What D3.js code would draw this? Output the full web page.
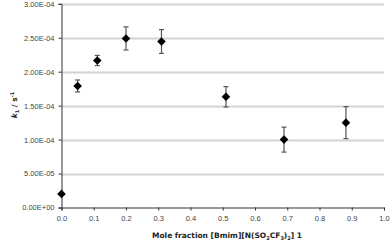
<!DOCTYPE html>
<html>
<head>
<meta charset="utf-8">
<script src="https://cdn.jsdelivr.net/npm/d3@7"></script>
<style>
  body { margin: 0; background: #fff; }
  svg { display: block; font-family: Verdana, "DejaVu Sans", sans-serif; }
</style>
</head>
<body>
<svg id="chart"></svg>
<script>
// data
var moleFraction = [0.0, 0.05, 0.111, 0.2, 0.31, 0.51, 0.69, 0.882];
var rateK1 = [2.0e-5, 1.79e-4, 2.165e-4, 2.49e-4, 2.445e-4, 1.63e-4, 1.0e-4, 1.25e-4];
var rateErr = [0, 0.88e-5, 0.75e-5, 1.7e-5, 1.75e-5, 1.5e-5, 1.84e-5, 2.35e-5];
var yTicks = [0, 5e-5, 1e-4, 1.5e-4, 2e-4, 2.5e-4, 3e-4];
var xTicks = [0, 0.1, 0.2, 0.3, 0.4, 0.5, 0.6, 0.7, 0.8, 0.9, 1.0];

var width = 392, height = 242;
var svg = d3.select("#chart").attr("width", width).attr("height", height);

var x = d3.scaleLinear().domain([0, 1]).range([61.5, 384]);
var y = d3.scaleLinear().domain([0, 3e-4]).range([207.5, 3.8]);

function sci(v) {
    if (v === 0) return "0.00E+00";
    var e = Math.floor(Math.log10(v) + 1e-9);
    var m = v / Math.pow(10, e);
    var es = (e < 0 ? "-" : "+") + (Math.abs(e) < 10 ? "0" : "") + Math.abs(e);
    return m.toFixed(2) + "E" + es;
}

// gridlines
svg.append("g")
    .selectAll("line")
    .data(yTicks.slice(1))
    .enter()
    .append("line")
    .attr("x1", x(0))
    .attr("x2", x(1))
    .attr("y1", function (d) { return Math.round(y(d)) + 0.5; })
    .attr("y2", function (d) { return Math.round(y(d)) + 0.5; })
    .style("stroke", "#d4d4d4")
    .style("stroke-width", 2);

// y axis
var yAxis = d3.axisLeft(y).tickValues(yTicks).tickFormat(sci).tickSize(3).tickPadding(4);
var gy = svg.append("g")
    .attr("transform", "translate(" + x(0) + ",0)")
    .call(yAxis);
gy.select(".domain").style("stroke", "#333");
gy.selectAll(".tick line").style("stroke", "#333");
gy.selectAll("text").style("font-size", "7.5px").style("fill", "#444");

// x axis
var xAxis = d3.axisBottom(x).tickValues(xTicks).tickFormat(d3.format(".1f")).tickSize(3).tickPadding(5);
var gx = svg.append("g")
    .attr("transform", "translate(0," + y(0) + ")")
    .call(xAxis);
gx.select(".domain").style("stroke", "#333");
gx.selectAll(".tick line").style("stroke", "#333");
gx.selectAll("text").style("font-size", "7.5px").style("fill", "#444");

// axis titles
var xt = svg.append("text")
    .attr("x", 227)
    .attr("y", 238)
    .attr("text-anchor", "middle")
    .style("font-size", "7.5px")
    .style("font-weight", "bold")
    .style("fill", "#222");
xt.append("tspan").text("Mole fraction [Bmim][N(SO");
xt.append("tspan").attr("dy", 2).style("font-size", "5px").text("2");
xt.append("tspan").attr("dy", -2).text("CF");
xt.append("tspan").attr("dy", 2).style("font-size", "5px").text("3");
xt.append("tspan").attr("dy", -2).text(")");
xt.append("tspan").attr("dy", 2).style("font-size", "5px").text("2");
xt.append("tspan").attr("dy", -2).text("] 1");

var yt = svg.append("text")
    .attr("transform", "translate(17," + 105 + ") rotate(-90)")
    .attr("text-anchor", "middle")
    .style("font-size", "7.5px")
    .style("font-weight", "bold")
    .style("fill", "#222");
yt.append("tspan").style("font-style", "italic").text("k");
yt.append("tspan").attr("dy", 2).style("font-size", "5px").text("1");
yt.append("tspan").attr("dy", -2).text(" / s");
yt.append("tspan").attr("dy", -3).style("font-size", "5px").text("-1");

// error bars
var pts = moleFraction.map(function (m, i) { return { x: m, y: rateK1[i], e: rateErr[i] }; });
var eb = svg.append("g").selectAll("g")
    .data(pts.filter(function (d) { return d.e > 0; }))
    .enter()
    .append("g")
    .style("stroke", "#555")
    .style("stroke-width", 1.2);
eb.append("line")
    .attr("x1", function (d) { return x(d.x); })
    .attr("x2", function (d) { return x(d.x); })
    .attr("y1", function (d) { return y(d.y + d.e); })
    .attr("y2", function (d) { return y(d.y - d.e); });
eb.append("line")
    .attr("x1", function (d) { return x(d.x) - 2.5; })
    .attr("x2", function (d) { return x(d.x) + 2.5; })
    .attr("y1", function (d) { return y(d.y + d.e); })
    .attr("y2", function (d) { return y(d.y + d.e); });
eb.append("line")
    .attr("x1", function (d) { return x(d.x) - 2.5; })
    .attr("x2", function (d) { return x(d.x) + 2.5; })
    .attr("y1", function (d) { return y(d.y - d.e); })
    .attr("y2", function (d) { return y(d.y - d.e); });

// diamond markers
svg.append("g").selectAll("path")
    .data(pts)
    .enter()
    .append("path")
    .attr("transform", function (d) { return "translate(" + x(d.x) + "," + y(d.y) + ")"; })
    .attr("d", "M0,-4.3L4.3,0L0,4.3L-4.3,0Z")
    .style("fill", "#000");
</script>
</body>
</html>
